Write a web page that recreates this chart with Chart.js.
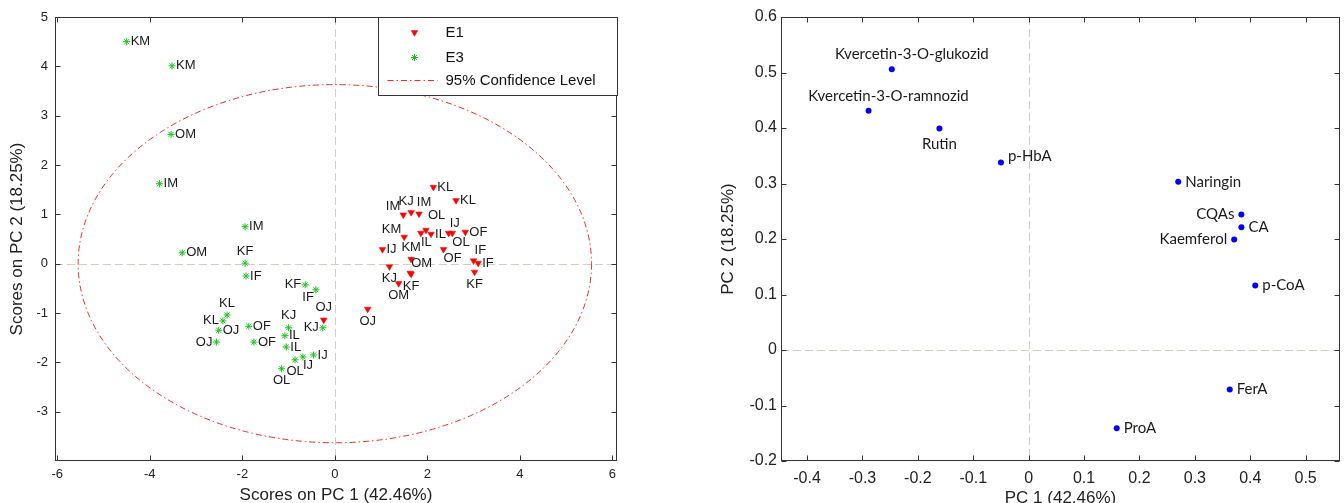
<!DOCTYPE html>
<html>
<head>
<meta charset="utf-8">
<script src="https://cdn.jsdelivr.net/npm/chart.js@4.4.1/dist/chart.umd.min.js"></script>
<style>
  html, body { margin: 0; padding: 0; background: #fff; }
  #wrap { position: relative; width: 1344px; height: 503px; overflow: hidden; }
  #scores { position: absolute; left: 0; top: 0; }
  #loadings { position: absolute; left: 680px; top: 0; }
</style>
</head>
<body>
<div id="wrap">
  <canvas id="scores" width="640" height="503"></canvas>
  <canvas id="loadings" width="664" height="503"></canvas>
</div>
<script>
// scores, extraction E1
const e1Names = ['KL', 'KL', 'IM', 'KJ', 'IM', 'KM', 'IL', 'OL', 'IL', 'IJ', 'OL', 'OF',
                 'IJ', 'KM', 'OF', 'IF', 'IF', 'KF', 'KJ', 'KF', 'OM', 'OM', 'OJ', 'OJ'];
const e1PC1 = [2.13, 2.62, 1.48, 1.65, 1.82, 1.50, 1.86, 1.97, 2.08, 2.46, 2.54, 2.82,
               1.03, 1.65, 2.35, 3.00, 3.10, 3.02, 1.18, 1.65, 1.63, 1.38, 0.71, -0.24];
const e1PC2 = [1.55, 1.28, 0.99, 1.04, 1.01, 0.54, 0.62, 0.68, 0.60, 0.62, 0.62, 0.64,
               0.29, 0.09, 0.29, 0.06, 0.01, -0.17, -0.06, -0.21, -0.19, -0.40, -0.92, -1.14];
const e1Place = ['r', 'r', 'al', 'aw', 'ae', 'al', 'br', 'au', 'r', 'ar', 'br', 'r',
                 'r', 'a', 'br', 'ar', 'r', 'b', 'b', 'b', 'ar', 'b', 'b', 'a'];

// scores, extraction E3
const e3Names = ['KM', 'KM', 'OM', 'IM', 'IM', 'OM', 'KF', 'IF', 'KF', 'IF', 'KL', 'KL',
                 'OJ', 'OJ', 'OF', 'OF', 'KJ', 'IL', 'IL', 'KJ', 'IJ', 'IJ', 'OL', 'OL'];
const e3PC1 = [-4.50, -3.52, -3.54, -3.79, -1.94, -3.30, -1.94, -1.92, -0.64, -0.41, -2.33, -2.42,
               -2.51, -2.56, -1.86, -1.75, -1.00, -1.08, -1.05, -0.26, -0.46, -0.69, -0.86, -1.15];
const e3PC2 = [4.50, 4.01, 2.62, 1.62, 0.75, 0.22, 0.01, -0.25, -0.43, -0.53, -1.04, -1.16,
               -1.35, -1.59, -1.27, -1.59, -1.30, -1.46, -1.69, -1.30, -1.85, -1.89, -1.95, -2.13];
const e3Place = ['r', 'r', 'r', 'r', 'r', 'r', 'a', 'r', 'l', 'bl', 'a', 'l',
                 'r', 'l', 'r', 'r', 'a', 'r', 'r', 'l', 'r', 'br', 'b', 'b'];

// loadings of the measured compounds
const compounds = ['Kvercetin-3-O-glukozid', 'Kvercetin-3-O-ramnozid', 'Rutin', 'p-HbA', 'Naringin',
                   'CQAs', 'CA', 'Kaemferol', 'p-CoA', 'FerA', 'ProA'];
const loadPC1 = [-0.247, -0.289, -0.161, -0.050, 0.270, 0.384, 0.384, 0.371, 0.409, 0.363, 0.159];
const loadPC2 = [0.506, 0.431, 0.399, 0.338, 0.303, 0.244, 0.221, 0.199, 0.116, -0.071, -0.141];
const loadPlace = ['a', 'a', 'b', 'ru', 'r', 'l', 'r', 'l', 'r', 'r', 'r'];

const scoreXTicks = [-6, -4, -2, 0, 2, 4, 6];
const scoreYTicks = [-3, -2, -1, 0, 1, 2, 3, 4, 5];
const loadXTicks = [-0.4, -0.3, -0.2, -0.1, 0, 0.1, 0.2, 0.3, 0.4, 0.5];
const loadYTicks = [-0.2, -0.1, 0, 0.1, 0.2, 0.3, 0.4, 0.5, 0.6];

// semi-axes of the 95% confidence ellipse
const ellipsePC1 = 5.55;
const ellipsePC2 = 3.63;

const RED = '#ff0000';
const GREEN = '#16c416';
const BLUE = '#0000ff';
const SANS = "'Liberation Sans', Arial, sans-serif";

Chart.defaults.font.family = SANS;
Chart.defaults.color = '#222';

const toPoints = (xs, ys) => xs.map((v, i) => ({ x: v, y: ys[i] }));

// where a name sits next to its marker: [textAlign, dx, dy]
const scorePlace = {
  r: ['left', 4, 0], l: ['right', -4, 0],
  a: ['center', 0, -12], b: ['center', 0, 12],
  aw: ['center', -5, -11], ae: ['center', 5, -11],
  ar: ['left', 1, -10], al: ['right', -3, -8], au: ['left', 2, -15],
  br: ['left', 0, 9], bl: ['right', -2, 8]
};
const loadingPlace = {
  r: ['left', 7, 0], ru: ['left', 7, -6], l: ['right', -7, 0],
  a: ['center', 20, -15], b: ['center', 0, 16]
};

function marker(ctx, style, x, y) {
  if (Chart.helpers && Chart.helpers.drawPoint) {
    Chart.helpers.drawPoint(ctx, style, x, y);
  }
}

function drawLegend(chart) {
  const { ctx, chartArea: area } = chart;
  const w = 239, h = 78;
  const left = Math.round(area.right - w) + 0.5;
  const top = Math.round(area.top) + 0.5;
  ctx.save();
  ctx.setLineDash([]);
  ctx.fillStyle = '#fff';
  ctx.fillRect(left, top, w, h);
  ctx.strokeStyle = '#333';
  ctx.lineWidth = 1;
  ctx.strokeRect(left, top, w, h);

  ctx.fillStyle = RED;
  ctx.strokeStyle = RED;
  ctx.lineWidth = 0.5;
  marker(ctx, { pointStyle: 'triangle', rotation: 180, radius: 3.8, borderWidth: 0.5 }, left + 36, top + 15);
  ctx.strokeStyle = GREEN;
  ctx.fillStyle = GREEN;
  ctx.lineWidth = 1;
  marker(ctx, { pointStyle: 'star', rotation: 0, radius: 3.5, borderWidth: 1 }, left + 36, top + 40);

  ctx.strokeStyle = 'rgba(255,0,0,0.85)';
  ctx.setLineDash([6, 3, 1.5, 3]);
  ctx.beginPath();
  ctx.moveTo(left + 9, top + 63);
  ctx.lineTo(left + 59, top + 63);
  ctx.stroke();

  ctx.fillStyle = '#111';
  ctx.font = '15px ' + SANS;
  ctx.textAlign = 'left';
  ctx.textBaseline = 'middle';
  ctx.fillText('E1', left + 67, top + 15);
  ctx.fillText('E3', left + 67, top + 40);
  ctx.fillText('95% Confidence Level', left + 67, top + 63);
  ctx.restore();
}

// zero lines, ellipse, names, box with inward ticks
const pcaFrame = {
  id: 'pcaFrame',
  beforeDatasetsDraw(chart, args, opts) {
    const { ctx, chartArea: area, scales: { x, y } } = chart;
    ctx.save();
    ctx.strokeStyle = '#d2cec6';
    ctx.lineWidth = 1;
    ctx.setLineDash([8, 4]);
    const x0 = Math.round(x.getPixelForValue(0)) + 0.5;
    const y0 = Math.round(y.getPixelForValue(0)) + 0.5;
    ctx.beginPath();
    ctx.moveTo(x0, area.top);
    ctx.lineTo(x0, area.bottom);
    ctx.moveTo(area.left, y0);
    ctx.lineTo(area.right, y0);
    ctx.stroke();

    if (opts.ellipse) {
      const cx = x.getPixelForValue(0);
      const cy = y.getPixelForValue(0);
      const rx = x.getPixelForValue(opts.ellipse[0]) - cx;
      const ry = cy - y.getPixelForValue(opts.ellipse[1]);
      ctx.strokeStyle = 'rgba(255,0,0,0.85)';
      ctx.setLineDash([6, 3, 1.5, 3]);
      ctx.beginPath();
      ctx.ellipse(cx, cy, rx, ry, 0, 0, Math.PI * 2);
      ctx.stroke();
    }
    ctx.restore();
  },
  afterDatasetsDraw(chart, args, opts) {
    const { ctx, chartArea: area, scales: { x, y } } = chart;
    ctx.save();
    ctx.font = opts.labelFont;
    ctx.fillStyle = '#1a1a1a';
    ctx.textBaseline = 'middle';
    chart.data.datasets.forEach((ds, i) => {
      chart.getDatasetMeta(i).data.forEach((pt, j) => {
        const [align, dx, dy] = opts.place[ds.labelPlace[j]];
        ctx.textAlign = align;
        ctx.fillText(ds.pointNames[j], pt.x + dx, pt.y + dy);
      });
    });

    const L = Math.round(area.left) + 0.5;
    const R = Math.round(area.right) - 0.5;
    const T = Math.round(area.top) + 0.5;
    const B = Math.round(area.bottom) - 0.5;
    ctx.strokeStyle = '#333';
    ctx.lineWidth = 1;
    ctx.strokeRect(L, T, R - L, B - T);
    ctx.beginPath();
    x.ticks.forEach(t => {
      const px = Math.round(x.getPixelForValue(t.value)) + 0.5;
      ctx.moveTo(px, B); ctx.lineTo(px, B - 5);
      ctx.moveTo(px, T); ctx.lineTo(px, T + 5);
    });
    y.ticks.forEach(t => {
      const py = Math.round(y.getPixelForValue(t.value)) + 0.5;
      ctx.moveTo(L, py); ctx.lineTo(L + 5, py);
      ctx.moveTo(R, py); ctx.lineTo(R - 5, py);
    });
    ctx.stroke();
    ctx.restore();

    if (opts.legend) drawLegend(chart);
  }
};

const fixedTicks = values => scale => { scale.ticks = values.map(v => ({ value: v })); };

new Chart(document.getElementById('scores'), {
  type: 'scatter',
  data: {
    datasets: [{
      label: 'E1',
      data: toPoints(e1PC1, e1PC2),
      pointNames: e1Names,
      labelPlace: e1Place,
      pointStyle: 'triangle',
      pointRotation: 180,
      pointRadius: 3.8,
      pointBackgroundColor: RED,
      pointBorderColor: RED,
      pointBorderWidth: 0.5
    }, {
      label: 'E3',
      data: toPoints(e3PC1, e3PC2),
      pointNames: e3Names,
      labelPlace: e3Place,
      pointStyle: 'star',
      pointRadius: 3.5,
      pointBackgroundColor: GREEN,
      pointBorderColor: GREEN,
      pointBorderWidth: 1
    }]
  },
  options: {
    responsive: false,
    animation: false,
    events: [],
    layout: { padding: { top: 17, right: 23, left: 0, bottom: 0 } },
    plugins: {
      legend: { display: false },
      tooltip: { enabled: false },
      pcaFrame: { ellipse: [ellipsePC1, ellipsePC2], legend: true, place: scorePlace, labelFont: '13px ' + SANS }
    },
    scales: {
      x: {
        type: 'linear', min: -6.05, max: 6.1,
        afterBuildTicks: fixedTicks(scoreXTicks),
        afterFit: s => { s.height = 42; },
        grid: { display: false, drawTicks: false },
        border: { display: false },
        ticks: { autoSkip: false, maxRotation: 0, padding: 6, font: { size: 13 }, callback: v => String(v) },
        title: { display: true, text: 'Scores on PC 1 (42.46%)', font: { size: 17 }, padding: { top: 0, bottom: -2.2 } }
      },
      y: {
        type: 'linear', min: -4, max: 5,
        afterBuildTicks: fixedTicks(scoreYTicks),
        afterFit: s => { s.width = 55; },
        grid: { display: false, drawTicks: false },
        border: { display: false },
        ticks: { autoSkip: false, padding: 7, font: { size: 13 }, callback: v => String(v) },
        title: { display: true, text: 'Scores on PC 2 (18.25%)', font: { size: 17 }, padding: { top: 6.8, bottom: 0 } }
      }
    }
  },
  plugins: [pcaFrame]
});

new Chart(document.getElementById('loadings'), {
  type: 'scatter',
  data: {
    datasets: [{
      label: 'Loadings',
      data: toPoints(loadPC1, loadPC2),
      pointNames: compounds,
      labelPlace: loadPlace,
      pointStyle: 'circle',
      pointRadius: 3,
      pointBackgroundColor: BLUE,
      pointBorderColor: BLUE,
      pointBorderWidth: 0
    }]
  },
  options: {
    responsive: false,
    animation: false,
    events: [],
    layout: { padding: { top: 17, right: 3, left: 0, bottom: 0 } },
    plugins: {
      legend: { display: false },
      tooltip: { enabled: false },
      pcaFrame: { place: loadingPlace, labelFont: "15px Lato, 'Noto Sans', sans-serif" }
    },
    scales: {
      x: {
        type: 'linear', min: -0.447, max: 0.562,
        afterBuildTicks: fixedTicks(loadXTicks),
        afterFit: s => { s.height = 42; },
        grid: { display: false, drawTicks: false },
        border: { display: false },
        ticks: { autoSkip: false, maxRotation: 0, padding: 8, font: { size: 16 }, callback: v => (v === 0 ? '0' : v.toFixed(1)) },
        title: { display: true, text: 'PC 1 (42.46%)', font: { size: 17 }, padding: { top: 0, bottom: -5.2 } }
      },
      y: {
        type: 'linear', min: -0.2, max: 0.6,
        afterBuildTicks: fixedTicks(loadYTicks),
        afterFit: s => { s.width = 101; },
        grid: { display: false, drawTicks: false },
        border: { display: false },
        ticks: { autoSkip: false, padding: 4, font: { size: 16 }, callback: v => (v === 0 ? '0' : v.toFixed(1)) },
        title: { display: true, text: 'PC 2 (18.25%)', font: { size: 17 }, padding: { top: 37.8, bottom: 0 } }
      }
    }
  },
  plugins: [pcaFrame]
});
</script>
</body>
</html>
